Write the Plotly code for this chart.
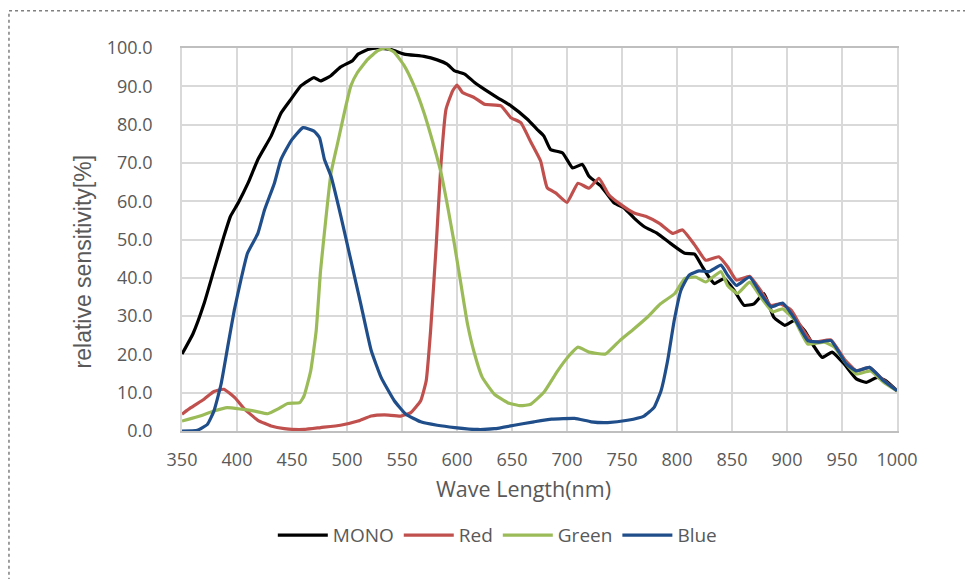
import plotly.graph_objects as go

# ---------------- data ----------------
mono_nm = [350, 360, 370, 379, 388, 394, 401, 410, 419, 431, 440, 449, 458, 465, 470, 476, 485, 494, 505, 510,
           519, 528, 540, 552, 570, 582, 591, 598, 607, 616, 625, 637, 649, 664, 673, 679, 685, 696, 705, 714,
           720, 731, 743, 752, 761, 770, 782, 794, 807, 816, 823, 829, 834, 843, 852, 861, 870, 879, 888, 898,
           907, 916, 925, 932, 941, 952, 963, 972, 982, 990, 1000]
mono_val = [20.1, 25.4, 33.2, 42.0, 50.7, 56.0, 59.5, 64.7, 70.9, 77.0, 83.0, 86.6, 90.1, 91.5, 92.3, 91.4, 92.7, 95.0, 96.7, 98.4,
            99.6, 100.0, 99.6, 98.4, 97.8, 96.9, 95.8, 94.0, 93.2, 91.0, 89.2, 87.0, 84.9, 81.4, 78.7, 77.0, 73.5, 72.6, 68.7, 69.6,
            66.5, 63.9, 59.5, 58.2, 55.6, 53.4, 51.6, 49.0, 46.4, 46.2, 42.9, 40.2, 38.5, 39.8, 36.7, 32.8, 33.2, 35.9, 29.7, 27.6,
            28.9, 26.2, 21.9, 19.2, 20.6, 17.5, 13.6, 12.7, 14.0, 13.1, 10.5]

red_nm = [350, 358, 370, 379, 388, 398, 407, 419, 431, 443, 461, 476, 494, 510, 522, 534, 549, 558, 567, 572,
          576, 581, 585.5, 590, 596, 600, 605, 616, 625, 640, 649, 658, 667, 676, 682, 690, 700, 710, 720, 729,
          738, 749, 761, 772, 784, 796, 805, 816, 826, 838, 846, 854, 866, 876, 885, 894, 904, 913, 923, 940,
          952, 963, 975, 985, 1000]
red_val = [4.4, 6.1, 8.3, 10.3, 10.9, 8.7, 5.7, 2.8, 1.3, 0.6, 0.4, 0.9, 1.5, 2.6, 3.9, 4.2, 3.9, 4.8, 7.9, 13.1,
           26.2, 48.0, 70.0, 84.0, 88.8, 90.3, 88.4, 87.0, 85.3, 84.9, 81.8, 80.5, 75.5, 70.5, 63.5, 62.1, 59.7, 64.7, 63.4, 66.0,
           61.7, 59.1, 56.9, 56.0, 54.2, 51.6, 52.5, 48.6, 44.6, 45.5, 42.9, 39.4, 40.4, 36.7, 32.8, 33.2, 31.5, 27.1, 23.2, 23.8,
           18.8, 15.7, 16.6, 14.0, 10.5]

green_nm = [350, 364, 379, 391, 404, 416, 428, 437, 446, 457, 461, 467, 472, 476, 481, 485.5, 491.5, 497.5, 503.5, 509.5,
            519, 528, 535.5, 543, 552, 561, 570, 579, 585.5, 591.5, 597.5, 603.5, 609.5, 616, 623, 634, 646, 658, 667, 679,
            691.5, 702, 710, 720, 735, 748, 761, 773, 785, 798, 807, 817, 826, 840, 846, 855, 866, 876, 887, 896,
            907, 919, 934, 943, 954, 963, 976, 988, 1000]
green_val = [2.6, 3.7, 5.2, 6.1, 5.7, 5.2, 4.5, 5.7, 7.2, 7.4, 9.2, 15.7, 26.2, 42.0, 56.0, 67.4, 75.2, 83.0, 90.1, 93.6,
             97.1, 99.3, 100.0, 98.9, 95.4, 90.1, 83.1, 74.4, 67.4, 58.6, 49.0, 38.5, 28.0, 20.1, 14.0, 9.6, 7.4, 6.6, 7.0, 10.1,
             15.7, 19.7, 21.9, 20.6, 20.1, 23.6, 26.7, 29.7, 33.2, 35.9, 39.8, 40.2, 38.9, 41.6, 38.0, 35.9, 38.9, 35.0, 31.1, 31.9,
             28.9, 22.7, 23.2, 21.9, 17.5, 14.9, 15.7, 12.7, 10.5]

blue_nm = [350, 364, 373, 379, 385.5, 391.5, 397.5, 403.5, 409.5, 419, 425, 434, 440, 449, 460, 470, 475, 479.5, 485.5, 494.5,
           503.5, 512.5, 522, 531, 543, 553.5, 567, 582, 598, 619, 634, 652, 670, 686, 707, 722, 737, 755, 770, 779,
           785.5, 791.5, 797.5, 803.5, 811, 820, 829, 840, 846, 854, 866, 876, 885.5, 896, 907, 919, 929, 940, 954, 963,
           975, 988, 1000]
blue_val = [0.0, 0.2, 1.7, 5.2, 12.2, 21.9, 31.5, 39.4, 46.4, 51.6, 57.7, 64.7, 70.9, 75.7, 79.2, 78.3, 76.6, 70.9, 66.5, 56.0,
            44.6, 33.2, 21.0, 14.0, 7.9, 4.4, 2.4, 1.5, 0.9, 0.4, 0.6, 1.5, 2.4, 3.1, 3.3, 2.4, 2.2, 2.8, 3.9, 6.1,
            10.5, 18.4, 28.9, 36.7, 40.7, 41.8, 41.6, 43.3, 40.7, 38.0, 40.2, 35.9, 32.4, 33.4, 29.3, 23.6, 23.2, 23.6, 17.5, 15.7,
            16.6, 13.1, 10.5]

x_ticks = [350, 400, 450, 500, 550, 600, 650, 700, 750, 800, 850, 900, 950, 1000]
y_ticks = [0, 10, 20, 30, 40, 50, 60, 70, 80, 90, 100]

series = [
    ("MONO", mono_nm, mono_val, "#000000"),
    ("Red", red_nm, red_val, "#c0504d"),
    ("Green", green_nm, green_val, "#9bbb59"),
    ("Blue", blue_nm, blue_val, "#1f4e8a"),
]

TXT = "#595959"
GRID = "#d9d9d9"
FONT = "Open Sans, Noto Sans, sans-serif"

fig = go.Figure()
for name, xs, ys, col in series:
    fig.add_trace(go.Scatter(x=xs, y=ys, name=name, mode="lines",
                             line=dict(color=col, width=3.2, shape="spline", smoothing=0.4)))

fig.update_layout(
    width=965, height=571,
    margin=dict(l=174, r=76, t=40, b=148),
    paper_bgcolor="white", plot_bgcolor="white",
    font=dict(family=FONT, size=18, color=TXT),
    showlegend=True,
    legend=dict(orientation="h", x=0.441, xanchor="center", y=-0.272, yanchor="middle",
                font=dict(family=FONT, size=19, color=TXT),
                itemwidth=50, tracegroupgap=0, bgcolor="rgba(0,0,0,0)"),
    xaxis=dict(range=[350, 1000], tickvals=x_ticks, ticktext=[str(v) for v in x_ticks],
               showgrid=True, gridcolor=GRID, gridwidth=1.5,
               showline=True, linecolor="#bfbfbf", linewidth=1.5, mirror=True,
               ticks="", ticklabelstandoff=12, zeroline=False,
               tickfont=dict(family=FONT, size=18, color=TXT)),
    yaxis=dict(range=[0, 100], tickvals=y_ticks, ticktext=["%.1f" % v for v in y_ticks],
               showgrid=True, gridcolor=GRID, gridwidth=1.5,
               showline=True, linecolor=GRID, linewidth=1.5, mirror=True,
               ticks="", ticklabelstandoff=24, zeroline=False,
               tickfont=dict(family=FONT, size=18, color=TXT)),
    annotations=[
        dict(text="Wave Length(nm)", xref="paper", yref="paper", x=0.477, y=-0.149,
             xanchor="center", yanchor="middle", showarrow=False,
             font=dict(family=FONT, size=21.5, color=TXT)),
        dict(text="relative sensitivity[%]", xref="paper", yref="paper", x=-0.138, y=0.441,
             xanchor="center", yanchor="middle", showarrow=False, textangle=-90,
             font=dict(family="Liberation Sans, Arial, sans-serif", size=23, color=TXT)),
    ],
    shapes=[
        dict(type="rect", xref="paper", yref="paper", x0=-0.242, x1=1.15, y0=-0.45, y1=1.097,
             line=dict(color="#7f7f7f", width=1.5, dash="dot"), fillcolor="rgba(0,0,0,0)", layer="below"),
    ],
)

fig.write_html("out.html")
